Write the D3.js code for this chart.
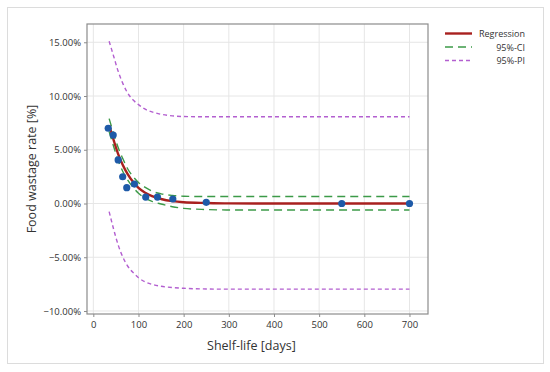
<!DOCTYPE html>
<html>
<head>
<meta charset="utf-8">
<script src="https://cdn.jsdelivr.net/npm/d3@7"></script>
<style>
  body { margin: 0; background: #fff; }
  text { font-family: "Open Sans", "Noto Sans", sans-serif; fill: #333; }
</style>
</head>
<body>
<svg id="chart" width="550" height="372"></svg>
<script>
/* shelf-life vs food wastage, regression with bands */
var shelfLife = [33, 44, 55, 65, 74, 91, 116, 142, 176, 250, 550, 700];
var wastage = [7.0, 6.37, 4.05, 2.49, 1.47, 1.81, 0.6, 0.6, 0.42, 0.11, 0.0, 0.0];

var curveX = [35, 45, 55, 65, 75, 90, 100, 115, 130, 150, 175, 200, 250, 300, 400, 550, 700];
var regression = [7.3, 5.9, 4.6, 3.6, 2.8, 1.9, 1.45, 1.0, 0.68, 0.42, 0.22, 0.12, 0.05, 0.01, 0, 0, 0];
var ciUpper = [7.9, 6.5, 5.2, 4.2, 3.3, 2.4, 1.95, 1.5, 1.15, 0.9, 0.75, 0.68, 0.65, 0.65, 0.65, 0.65, 0.65];
var ciLower = [6.7, 5.3, 4.0, 3.0, 2.25, 1.4, 0.95, 0.5, 0.2, -0.05, -0.3, -0.45, -0.56, -0.6, -0.6, -0.6, -0.6];
var piUpper = [15.1, 13.7, 12.3, 11.2, 10.35, 9.55, 9.2, 8.77, 8.52, 8.3, 8.15, 8.09, 8.07, 8.07, 8.07, 8.07, 8.07];
var piLower = [-0.75, -2.4, -3.85, -4.95, -5.75, -6.5, -6.9, -7.3, -7.52, -7.7, -7.82, -7.89, -7.95, -7.97, -7.97, -7.97, -7.97];

var xTicks = [0, 100, 200, 300, 400, 500, 600, 700];
var yTicks = [-10, -5, 0, 5, 10, 15];
var legendLabels = ["Regression", "95%-CI", "95%-PI"];

var svg = d3.select("#chart");
var plot = {left: 87, top: 24, right: 428, bottom: 314};

// outer frame
svg.append("rect")
    .attr("x", 7.5).attr("y", 7.5)
    .attr("width", 536).attr("height", 356)
    .attr("fill", "#fff").attr("stroke", "#dcdcdc").attr("stroke-width", 1);

var x = d3.scaleLinear().domain([-14, 741]).range([plot.left, plot.right]);
var y = d3.scaleLinear().domain([-10.28, 16.7]).range([plot.bottom, plot.top]);

// grid
var g = svg.append("g");
g.selectAll(".vgrid").data(xTicks).enter().append("line")
    .attr("x1", function(d){ return x(d); }).attr("x2", function(d){ return x(d); })
    .attr("y1", plot.top).attr("y2", plot.bottom)
    .attr("stroke", "#e6e6e6").attr("stroke-width", 1);
g.selectAll(".hgrid").data(yTicks).enter().append("line")
    .attr("x1", plot.left).attr("x2", plot.right)
    .attr("y1", function(d){ return y(d); }).attr("y2", function(d){ return y(d); })
    .attr("stroke", "#e6e6e6").attr("stroke-width", 1);

// plot frame
svg.append("rect")
    .attr("x", plot.left).attr("y", plot.top)
    .attr("width", plot.right - plot.left).attr("height", plot.bottom - plot.top)
    .attr("fill", "none").attr("stroke", "#8c8c8c").attr("stroke-width", 1.2);

// axes
var xAxis = svg.append("g")
    .attr("transform", "translate(0," + plot.bottom + ")")
    .call(d3.axisBottom(x).tickValues(xTicks).tickSize(3).tickPadding(4));
var yAxis = svg.append("g")
    .attr("transform", "translate(" + plot.left + ",0)")
    .call(d3.axisLeft(y).tickValues(yTicks).tickSize(3).tickPadding(3)
          .tickFormat(function(d){ return d3.format(".2f")(d) + "%"; }));
[xAxis, yAxis].forEach(function(a){
    a.select(".domain").remove();
    a.selectAll(".tick line").attr("stroke", "#8c8c8c");
    a.selectAll(".tick text").style("font-size", "9.5px").attr("fill", "#333");
});

// axis titles
svg.append("text")
    .attr("x", x(350)).attr("y", 350)
    .attr("text-anchor", "middle").style("font-size", "12.5px")
    .text("Shelf-life [days]");
svg.append("text")
    .attr("transform", "translate(36," + ((plot.top + plot.bottom) / 2) + ") rotate(-90)")
    .attr("text-anchor", "middle").style("font-size", "12.5px")
    .text("Food wastage rate [%]");

// curves
var line = function(vals){
    return d3.line()
        .x(function(d, i){ return x(curveX[i]); })
        .y(function(d){ return y(d); })
        .curve(d3.curveMonotoneX)(vals);
};
var series = [
    {vals: piUpper, color: "#b35fd0", width: 1.4, dash: "4,3"},
    {vals: piLower, color: "#b35fd0", width: 1.4, dash: "4,3"},
    {vals: ciUpper, color: "#3c9a48", width: 1.4, dash: "8,5"},
    {vals: ciLower, color: "#3c9a48", width: 1.4, dash: "8,5"},
    {vals: regression, color: "#a8201f", width: 2.4, dash: null}
];
series.forEach(function(s){
    svg.append("path")
        .attr("d", line(s.vals))
        .attr("fill", "none")
        .attr("stroke", s.color)
        .attr("stroke-width", s.width)
        .attr("stroke-dasharray", s.dash);
});

// points
svg.selectAll(".pt").data(shelfLife).enter().append("circle")
    .attr("cx", function(d){ return x(d); })
    .attr("cy", function(d, i){ return y(wastage[i]); })
    .attr("r", 3.6)
    .attr("fill", "#1e5aa8");

// legend
var legendStyle = [
    {color: "#a8201f", width: 2.4, dash: null},
    {color: "#3c9a48", width: 1.6, dash: "8,5"},
    {color: "#b35fd0", width: 1.4, dash: "4,3"}
];
var leg = svg.append("g");
legendLabels.forEach(function(lbl, i){
    var ly = 33.5 + i * 13.5;
    leg.append("line")
        .attr("x1", 445).attr("x2", 472)
        .attr("y1", ly).attr("y2", ly)
        .attr("stroke", legendStyle[i].color)
        .attr("stroke-width", legendStyle[i].width)
        .attr("stroke-dasharray", legendStyle[i].dash);
    leg.append("text")
        .attr("x", 525).attr("y", ly + 3.5)
        .attr("text-anchor", "end").style("font-size", "9px")
        .text(lbl);
});
</script>
</body>
</html>
